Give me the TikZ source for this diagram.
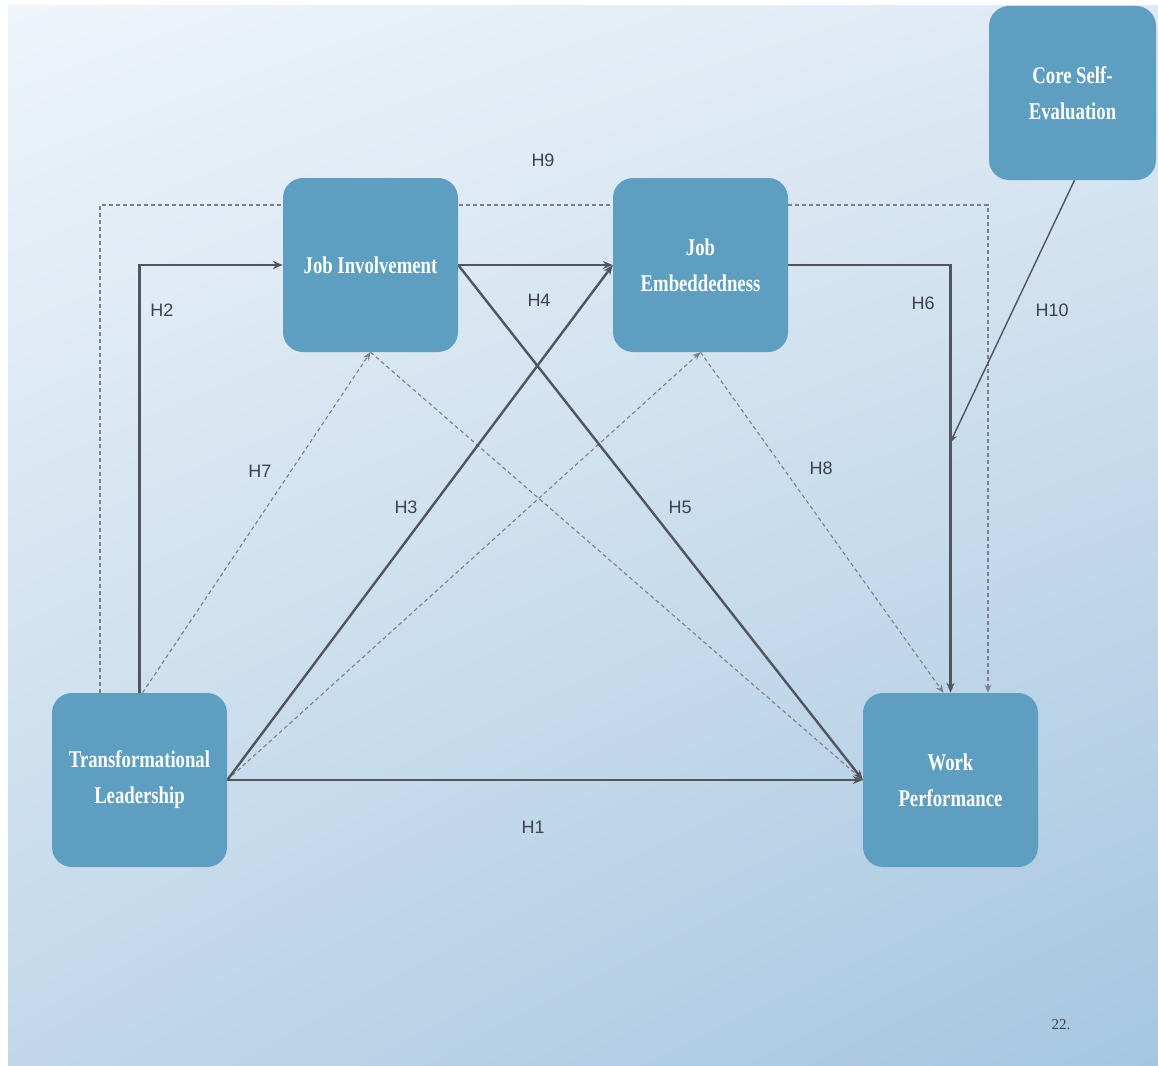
\documentclass[tikz,border=0pt]{standalone}
\usepackage{fontspec}
\setmainfont{Liberation Serif}
\newfontfamily\boxfont[FakeStretch=0.78]{Liberation Serif}
\newfontfamily\labfont{Liberation Sans}
\usetikzlibrary{arrows.meta,calc,backgrounds,shadings}
\definecolor{boxblue}{HTML}{5E9FC1}
\definecolor{bgTL}{HTML}{EEF4FA}
\definecolor{bgTR}{HTML}{DDE9F4}
\definecolor{bgBL}{HTML}{C2D8EA}
\definecolor{bgBR}{HTML}{A6C6E0}
\definecolor{linedark}{HTML}{50555F}
\definecolor{dashgray}{HTML}{7A7F88}
\definecolor{labcol}{HTML}{3C414B}
\tikzset{
  var/.style={fill=boxblue, rounded corners=20pt, minimum width=175pt, minimum height=174pt,
    text=white, align=center, inner sep=0pt,
    font=\boxfont\bfseries\fontsize{24}{36}\selectfont},
  sol/.style={draw=linedark, line width=2.4pt, -{Stealth[length=10pt,width=8pt]}},
  thinsol/.style={draw=linedark, line width=1.4pt, -{Stealth[length=9pt,width=7pt]}},
  dsh/.style={draw=dashgray, line width=1.1pt, dash pattern=on 4pt off 3pt, -{Stealth[length=8pt,width=6.5pt]}},
  hl/.style={font=\labfont\fontsize{18}{20}\selectfont, text=labcol, inner sep=0pt}
}
\begin{document}
\begin{tikzpicture}[x=1pt,y=-1pt]
\useasboundingbox (0,0) rectangle (1158,1065);
% boxes
\node[var] (JI)  at (370.5,265) {Job Involvement};
\node[var] (JE)  at (700.5,265) {Job\\Embeddedness};
\node[var] (TL)  at (139.5,780) {Transformational\\Leadership};
\node[var] (WP)  at (950.5,780) {Work\\Performance};
\node[var, minimum width=167pt] (CSE) at (1072.5,93) {Core Self-\\Evaluation};
% labels
\node[hl] (lH9)  at (543,160) {H9};
\node[hl] (lH2)  at (162,310) {H2};
\node[hl] (lH4)  at (539,300) {H4};
\node[hl] (lH6)  at (923,303) {H6};
\node[hl] (lH10) at (1052,310) {H10};
\node[hl] (lH7)  at (260,471) {H7};
\node[hl] (lH3)  at (406,507) {H3};
\node[hl] (lH5)  at (680,507) {H5};
\node[hl] (lH8)  at (821,468) {H8};
\node[hl] (lH1)  at (533,827) {H1};
\node[font=\fontsize{15}{17}\selectfont, text=labcol] (page) at (1061,1025) {22.};
% helper coordinates
\coordinate (h9a) at (100,205);
\coordinate (h9b) at (988,205);
\coordinate (h10e) at (950,443);
\begin{scope}[on background layer]
  \fill[white] (0,0) rectangle (1158,1065);
  \shade[upper left=bgTL, upper right=bgTR, lower left=bgBL, lower right=bgBR]
    (8,6) rectangle (1158,1065);
  % dashed paths
  \draw[dsh] (TL.north -| h9a) -- (h9a) -- (h9b) -- (h9b |- WP.north);
  \draw[dsh] ($(TL.north)+(3,0)$) -- (JI.south);
  \draw[dsh] (JI.south) -- (WP.west);
  \draw[dsh] (TL.east) -- (JE.south);
  \draw[dsh] (JE.south) -- ($(WP.north)+(-7,0)$);
  % solid paths
  \draw[sol] (TL.north) |- (JI.west);
  \draw[sol] (JI.east) -- (JE.west);
  \draw[sol] (JE.east) -| (WP.north);
  \draw[sol] (TL.east) -- (JE.west);
  \draw[sol] (JI.east) -- (WP.west);
  \draw[sol] (TL.east) -- (WP.west);
  \draw[thinsol] ($(CSE.south)+(2,0)$) -- (h10e);
\end{scope}
\end{tikzpicture}
\end{document}
